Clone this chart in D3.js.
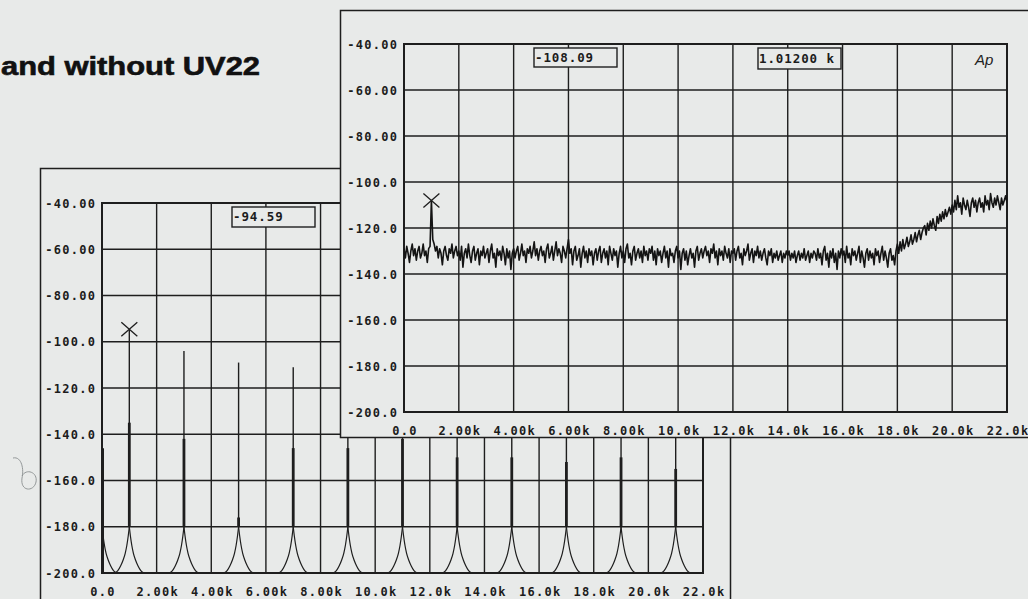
<!DOCTYPE html>
<html><head><meta charset="utf-8">
<script src="https://cdn.jsdelivr.net/npm/d3@7"></script>
<style>
body{margin:0;background:#e8eae9;}
svg{display:block}
.lbl{font-family:"DejaVu Sans Mono",monospace;font-weight:bold;font-size:12px;letter-spacing:1.3px;fill:#1c1c1c}
</style></head><body>
<svg id="c" width="1028" height="599"></svg>
<script>
const titleText = "and without UV22";
const xTickValues = [0,2000,4000,6000,8000,10000,12000,14000,16000,18000,20000,22000];
const xTickLabels = ["0.0","2.00k","4.00k","6.00k","8.00k","10.0k","12.0k","14.0k","16.0k","18.0k","20.0k","22.0k"];
const yTickValues = [-40,-60,-80,-100,-120,-140,-160,-180,-200];
const yTickLabels = ["-40.00","-60.00","-80.00","-100.0","-120.0","-140.0","-160.0","-180.0","-200.0"];

// back chart (with UV22 off): harmonic spectrum
const harmonicFreqs    = [0,1000,3000,5000,7000,9000,11000,13000,15000,17000,19000,21000];
const harmonicPeaks    = [-146,-94.59,-104,-109,-111,-115,-113,-112,-115,-114,-116,-117];
const harmonicBodyTops = [-146,-135,-142,-176,-146,-146,-142,-150,-150,-152,-150,-155];
const skirtOffsets = [0,40,90,150,230,320,420,540];
const skirtLevels  = [-180,-184,-188,-191.5,-194.5,-197,-199,-200];
const backMarkerFreq = 1000, backMarkerLevel = -94.59, backReadout = "-94.59";

// front chart (with UV22): noise floor, 50 Hz steps from 0 Hz
const noiseStepHz = 50;
const noiseLevels = [
-129,-133,-128,-131,-135,-130,-127,-132,-129,-134,-130,-128,-133,-131,-127,-132,-130,-135,-129,-128,
-108.09,-125,-127,-130,-128,-133,-129,-131,-136,-130,-128,-132,-134,-129,-131,-127,-133,-130,-128,-132,
-130,-134,-128,-137,-131,-129,-133,-127,-132,-135,-130,-128,-134,-131,-129,-136,-130,-132,-128,-133,
-131,-129,-135,-130,-127,-133,-131,-137,-129,-132,-130,-134,-128,-131,-136,-129,-133,-130,-138,-131,
-129,-133,-130,-128,-134,-131,-127,-132,-130,-135,-129,-131,-128,-133,-130,-126,-132,-129,-134,-130,
-128,-132,-130,-135,-129,-127,-133,-131,-128,-134,-130,-126,-132,-129,-131,-135,-128,-130,-133,-129,
-125,-131,-129,-136,-130,-128,-134,-132,-129,-137,-131,-128,-133,-130,-135,-129,-132,-130,-136,-131,
-129,-134,-130,-128,-135,-131,-129,-133,-130,-136,-128,-131,-134,-129,-132,-130,-137,-131,-128,-133,
-130,-135,-129,-127,-133,-131,-136,-130,-128,-134,-131,-129,-133,-130,-135,-128,-132,-130,-134,-129,
-131,-128,-134,-130,-136,-129,-132,-130,-135,-131,-128,-133,-130,-137,-129,-132,-131,-135,-130,-128,
-133,-130,-138,-131,-129,-134,-130,-136,-132,-129,-133,-131,-137,-130,-128,-134,-131,-129,-133,-130,
-128,-132,-130,-135,-129,-131,-127,-133,-130,-136,-129,-132,-130,-134,-128,-131,-133,-129,-135,-130,
-131,-129,-134,-130,-128,-133,-131,-136,-129,-132,-130,-127,-134,-131,-129,-135,-130,-132,-128,-133,
-130,-134,-131,-129,-133,-136,-130,-132,-129,-135,-131,-133,-130,-134,-132,-130,-135,-131,-133,-130,
-132,-130,-134,-131,-133,-130,-135,-132,-130,-134,-131,-133,-129,-134,-132,-130,-135,-131,-133,-130,
-131,-134,-129,-133,-131,-136,-130,-128,-134,-131,-137,-130,-133,-129,-135,-131,-138,-130,-133,-129,
-132,-130,-135,-128,-133,-131,-136,-129,-132,-130,-134,-131,-128,-135,-130,-133,-137,-131,-129,-134,
-130,-133,-131,-136,-129,-132,-130,-135,-131,-128,-134,-130,-133,-137,-131,-129,-134,-132,-136,-130,
-127,-131,-126,-130,-125,-129,-127,-124,-128,-126,-123,-127,-125,-122,-126,-123,-121,-125,-122,-120,
-119,-123,-118,-121,-117,-120,-116,-119,-121,-115,-118,-114,-117,-113,-116,-112,-115,-113,-111,-114,
-110,-113,-108,-112,-106,-111,-109,-114,-107,-110,-112,-108,-111,-115,-109,-107,-111,-108,-113,-109,
-107,-111,-109,-113,-106,-110,-108,-112,-105,-109,-111,-107,-110,-106,-109,-112,-107,-110,-108,-106,
-109];
const frontMarkerFreq = 1000, frontMarkerLevel = -108.09;
const frontReadouts = ["-108.09","1.01200 k"];

const BG = "#e8eae9", INK = "#1e1e1e";
const svg = d3.select("#c");
svg.append("rect").attr("width",1028).attr("height",599).attr("fill",BG);

// title
svg.append("text").attr("x",1).attr("y",75).text(titleText)
  .attr("font-family","Liberation Sans, Arial, sans-serif").attr("font-weight","bold")
  .attr("font-size",25).attr("textLength",259).attr("lengthAdjust","spacingAndGlyphs")
  .attr("fill","#111").attr("stroke","#111").attr("stroke-width",0.6);

function drawPlot(g, x, y, id) {
  const [x0,x1] = x.range(), [y0,y1] = y.range();
  g.append("g").selectAll("line").data(xTickValues).join("line")
    .attr("x1",d=>x(d)).attr("x2",d=>x(d)).attr("y1",y0).attr("y2",y1)
    .attr("stroke",INK).attr("stroke-width",1.4);
  g.append("g").selectAll("line").data(yTickValues).join("line")
    .attr("y1",d=>y(d)).attr("y2",d=>y(d)).attr("x1",x0).attr("x2",x1)
    .attr("stroke",INK).attr("stroke-width",1.4);
  g.append("rect").attr("x",x0).attr("y",y0).attr("width",x1-x0).attr("height",y1-y0)
    .attr("fill","none").attr("stroke",INK).attr("stroke-width",2);
  const ax = g.append("g").attr("transform",`translate(0,${y1+19})`)
    .call(d3.axisBottom(x).tickValues(xTickValues).tickFormat((d,i)=>xTickLabels[i]).tickSize(0).tickPadding(0));
  ax.select(".domain").remove();
  ax.selectAll("text").attr("class","lbl").attr("font-size",null).attr("font-family",null).attr("fill",null).attr("dy","0.35em").attr("dx","0.6");
  const ay = g.append("g").attr("transform",`translate(${x0-7},0)`)
    .call(d3.axisLeft(y).tickValues(yTickValues).tickFormat((d,i)=>yTickLabels[i]).tickSize(0).tickPadding(0));
  ay.select(".domain").remove();
  ay.selectAll("text").attr("class","lbl").attr("font-size",null).attr("font-family",null).attr("fill",null).attr("dy","0.35em").attr("dx","1.3");
  svg.append("clipPath").attr("id",id).append("rect").attr("x",x0).attr("y",y0).attr("width",x1-x0).attr("height",y1-y0);
}

function cross(g, cx, cy) {
  g.append("path").attr("d",`M${cx-8},${cy-7}L${cx+8},${cy+7}M${cx-8},${cy+7}L${cx+8},${cy-7}`)
    .attr("stroke",INK).attr("stroke-width",1.3).attr("fill","none");
}
function readout(g, bx, by, w, h, txt) {
  g.append("rect").attr("x",bx).attr("y",by).attr("width",w).attr("height",h)
    .attr("fill",BG).attr("stroke",INK).attr("stroke-width",1.4);
  g.append("text").attr("class","lbl").attr("x",bx+1).attr("y",by+h/2).attr("dy","0.35em")
    .style("font-size","12.5px").style("letter-spacing","0.9px").text(txt);
}

// ---------- back chart ----------
const back = svg.append("g");
back.append("rect").attr("x",40.5).attr("y",168.5).attr("width",690).attr("height",480)
  .attr("fill",BG).attr("stroke",INK).attr("stroke-width",1.5);
const xB = d3.scaleLinear().domain([0,22000]).range([102,703]);
const yB = d3.scaleLinear().domain([-40,-200]).range([203,573]);
drawPlot(back, xB, yB, "clipB");
const bData = back.append("g").attr("clip-path","url(#clipB)");
const skirtLine = d3.line().x(d=>xB(d[0])).y(d=>yB(d[1])).curve(d3.curveMonotoneX);
harmonicFreqs.forEach((f,i)=>{
  const left = [], right = [];
  for (let k=skirtOffsets.length-1;k>=0;k--) left.push([f-skirtOffsets[k], skirtLevels[k]]);
  for (let k=0;k<skirtOffsets.length;k++) right.push([f+skirtOffsets[k], skirtLevels[k]]);
  [left,right].forEach(pts=>bData.append("path").attr("d",skirtLine(pts)).attr("fill","none")
    .attr("stroke",INK).attr("stroke-width",1.2));
  const base = f===0 ? -200 : skirtLevels[0];
  bData.append("line").attr("x1",xB(f)).attr("x2",xB(f)).attr("y1",yB(base)).attr("y2",yB(harmonicPeaks[i]))
    .attr("stroke",INK).attr("stroke-width",1.4);
  bData.append("line").attr("x1",xB(f)).attr("x2",xB(f)).attr("y1",yB(base)).attr("y2",yB(harmonicBodyTops[i]))
    .attr("stroke",INK).attr("stroke-width",f===0?4:2.8);
});
cross(back, xB(backMarkerFreq), yB(backMarkerLevel));
readout(back, 232, 207, 83, 20, backReadout);

// pencil mark
svg.append("path").attr("d","M13,458 C22,456 24,470 22,478 C20,492 34,492 36,482 C38,472 26,468 22,476")
  .attr("fill","none").attr("stroke","#8a8f90").attr("stroke-width",0.9);

// ---------- front chart ----------
const front = svg.append("g");
front.append("rect").attr("x",340.5).attr("y",10.5).attr("width",720).attr("height",427)
  .attr("fill",BG).attr("stroke",INK).attr("stroke-width",1.5);
const xF = d3.scaleLinear().domain([0,22000]).range([404,1007]);
const yF = d3.scaleLinear().domain([-40,-200]).range([44,412]);
drawPlot(front, xF, yF, "clipF");
front.append("g").attr("clip-path","url(#clipF)").append("path")
  .attr("d", d3.line().x((d,i)=>xF(i*noiseStepHz)).y(d=>yF(d))(noiseLevels))
  .attr("fill","none").attr("stroke","#141414").attr("stroke-width",1.6).attr("stroke-linejoin","round");
cross(front, xF(frontMarkerFreq), yF(frontMarkerLevel));
readout(front, 534, 48, 83, 19, frontReadouts[0]);
readout(front, 758, 48, 83, 21, frontReadouts[1]);
front.append("text").attr("x",975).attr("y",65).text("Ap")
  .attr("font-family","Liberation Sans, Arial, sans-serif").attr("font-style","italic")
  .attr("font-size",15).attr("fill","#222");
</script></body></html>
